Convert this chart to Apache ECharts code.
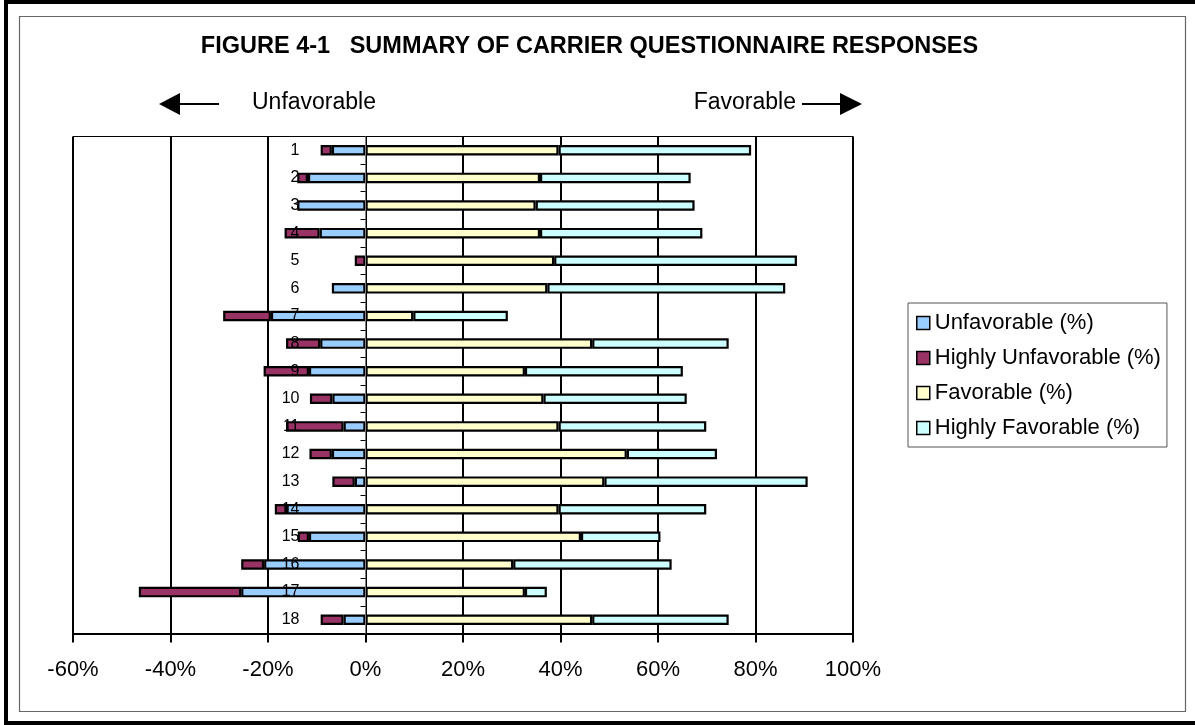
<!DOCTYPE html>
<html>
<head>
<meta charset="utf-8">
<script src="https://cdn.jsdelivr.net/npm/echarts@6/dist/echarts.min.js"></script>
<style>
html,body{margin:0;padding:0;background:#fff;}
#chart{width:1195px;height:725px;}
</style>
</head>
<body>
<div id="chart"></div>
<script>
// Question numbers
const categories = ['1','2','3','4','5','6','7','8','9','10','11','12','13','14','15','16','17','18'];
// Percent of responses (unfavorable shown to the left of 0)
const unfavorable        = [6.9, 11.8, 14.0, 9.4, 0, 6.9, 19.4, 9.3, 11.6, 6.8, 4.5, 6.9, 2.2, 16.2, 11.6, 20.8, 25.5, 4.5];
const highlyUnfavorable  = [2.3, 2.2, 0, 7.2, 2.2, 0, 9.8, 7.0, 9.3, 4.6, 11.8, 4.6, 4.6, 2.4, 2.3, 4.7, 21.0, 4.7];
const favorable          = [39.6, 35.8, 34.9, 35.8, 38.7, 37.3, 9.8, 46.5, 32.7, 36.5, 39.6, 53.6, 49.0, 39.6, 44.2, 30.3, 32.7, 46.5];
const highlyFavorable    = [39.5, 30.9, 32.6, 33.3, 49.8, 48.8, 19.4, 28.0, 32.4, 29.4, 30.3, 18.5, 41.7, 30.3, 16.3, 32.5, 4.5, 28.0];
const xTicks = {min: -60, max: 100, interval: 20};

const FONT = '"Liberation Sans", Arial, sans-serif';
const neg = a => a.map(v => v === 0 ? null : -v);
const pos = a => a.map(v => v === 0 ? null : v);

const GRID = {left: 73, right: 342, top: 136.5, bottom: 91.5};
const plotW = 1195 - GRID.left - GRID.right;
// place the category axis at x = 0 (inside the plot)
const zeroOffset = -plotW * (0 - xTicks.min) / (xTicks.max - xTicks.min);

function barSeries(name, data, color) {
  return {
    name: name, type: 'bar', stack: 'total', data: data,
    barWidth: 10.5,
    itemStyle: {color: color, borderColor: '#000', borderWidth: 2.2},
    emphasis: {disabled: true}
  };
}

const chart = echarts.init(document.getElementById('chart'), null, {renderer: 'canvas'});
chart.setOption({
  animation: false,
  backgroundColor: '#fff',
  textStyle: {fontFamily: FONT, color: '#000'},
  grid: Object.assign({show: true, borderColor: '#000', borderWidth: 1, backgroundColor: 'transparent', containLabel: false, outerBoundsMode: 'none'}, GRID),
  xAxis: {
    type: 'value', min: xTicks.min, max: xTicks.max, interval: xTicks.interval,
    axisLine: {show: true, onZero: false, lineStyle: {color: '#000', width: 2}},
    axisTick: {show: true, length: 9, lineStyle: {color: '#000', width: 2}},
    axisLabel: {formatter: '{value}%', fontSize: 22, color: '#000', fontFamily: FONT, margin: 25},
    splitLine: {show: true, showMinLine: true, showMaxLine: true, lineStyle: {color: '#000', width: 2}}
  },
  yAxis: {
    type: 'category', data: categories, inverse: true, z: 5,
    position: 'left', offset: zeroOffset,
    axisLine: {show: true, onZero: false, lineStyle: {color: '#808080', width: 1}},
    axisTick: {show: true, length: 5, lineStyle: {color: '#000', width: 1}},
    axisLabel: {fontSize: 16, color: '#000', fontFamily: FONT, margin: 66},
    splitLine: {show: false}
  },
  legend: {
    orient: 'vertical', left: 908, top: 303,
    padding: [9, 6, 8, 8], itemGap: 13,
    itemWidth: 13, itemHeight: 13, icon: 'rect',
    backgroundColor: '#fff', borderColor: '#555', borderWidth: 1,
    textStyle: {fontSize: 22, color: '#000', fontFamily: FONT},
    itemStyle: {borderColor: '#000', borderWidth: 1.5},
    data: ['Unfavorable (%)', 'Highly Unfavorable (%)', 'Favorable (%)', 'Highly Favorable (%)']
  },
  series: [
    barSeries('Unfavorable (%)', neg(unfavorable), '#99CCFF'),
    barSeries('Highly Unfavorable (%)', neg(highlyUnfavorable), '#993366'),
    barSeries('Favorable (%)', pos(favorable), '#FFFFCC'),
    barSeries('Highly Favorable (%)', pos(highlyFavorable), '#CCFFFF')
  ],
  graphic: [
    {type: 'rect', silent: true, z: 100, shape: {x: 6, y: 2, width: 1200, height: 721}, style: {fill: 'none', stroke: '#000', lineWidth: 4}},
    {type: 'rect', silent: true, z: 100, shape: {x: 19.5, y: 16.5, width: 1166, height: 695}, style: {fill: 'none', stroke: '#666', lineWidth: 1.2}},
    {type: 'text', silent: true, x: 589.5, y: 47, style: {text: 'FIGURE 4-1   SUMMARY OF CARRIER QUESTIONNAIRE RESPONSES', font: 'bold 23.5px ' + FONT, fill: '#000', textAlign: 'center', textVerticalAlign: 'middle'}},
    {type: 'text', silent: true, x: 252, y: 103, style: {text: 'Unfavorable', font: '23px ' + FONT, fill: '#000', textAlign: 'left', textVerticalAlign: 'middle'}},
    {type: 'text', silent: true, x: 796, y: 103, style: {text: 'Favorable', font: '23px ' + FONT, fill: '#000', textAlign: 'right', textVerticalAlign: 'middle'}},
    {type: 'line', silent: true, shape: {x1: 178, y1: 104, x2: 219, y2: 104}, style: {stroke: '#000', lineWidth: 2}},
    {type: 'polygon', silent: true, shape: {points: [[159, 104], [180, 93], [180, 115]]}, style: {fill: '#000'}},
    {type: 'line', silent: true, shape: {x1: 802, y1: 104, x2: 842, y2: 104}, style: {stroke: '#000', lineWidth: 2}},
    {type: 'polygon', silent: true, shape: {points: [[862, 104], [840, 93], [840, 115]]}, style: {fill: '#000'}}
  ]
});
</script>
</body>
</html>
